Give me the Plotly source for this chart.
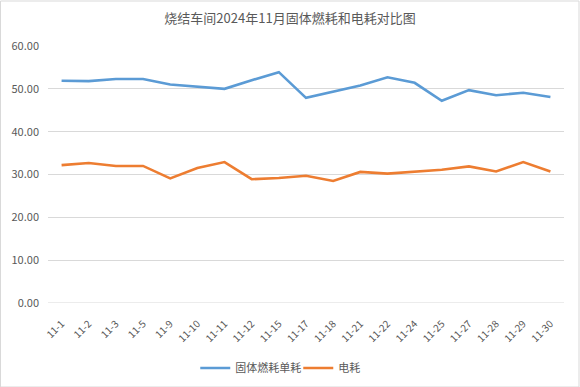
import plotly.graph_objects as go

categories = ["11-1", "11-2", "11-3", "11-5", "11-9", "11-10", "11-11", "11-12", "11-15", "11-17",
              "11-18", "11-21", "11-22", "11-24", "11-25", "11-27", "11-28", "11-29", "11-30"]
solid_fuel = [51.9, 51.8, 52.3, 52.3, 51.0, 50.5, 50.0, 52.0, 53.9, 47.9,
              49.3, 50.8, 52.7, 51.4, 47.2, 49.7, 48.5, 49.1, 48.1]
power = [32.2, 32.7, 32.0, 32.0, 29.1, 31.5, 32.9, 28.9, 29.2, 29.7,
         28.5, 30.6, 30.2, 30.7, 31.1, 31.9, 30.7, 32.9, 30.7]
y_ticks = [0, 10, 20, 30, 40, 50, 60]
y_ticktext = ["0.00", "10.00", "20.00", "30.00", "40.00", "50.00", "60.00"]

FONT = "Noto Sans CJK SC, Liberation Sans, sans-serif"
GREY = "#595959"

fig = go.Figure()
fig.add_trace(go.Scatter(x=list(range(len(categories))), y=solid_fuel, mode="lines",
                         name="固体燃耗单耗", line=dict(color="#5B9BD5", width=2.6)))
fig.add_trace(go.Scatter(x=list(range(len(categories))), y=power, mode="lines",
                         name="电耗", line=dict(color="#ED7D31", width=2.6)))

fig.update_layout(
    width=580, height=387,
    margin=dict(l=48, r=16, t=46, b=84, autoexpand=False),
    paper_bgcolor="white", plot_bgcolor="white",
    font=dict(family=FONT, color=GREY, size=10),
    title=dict(text="烧结车间2024年11月固体燃耗和电耗对比图", x=0.5, xanchor="center",
               y=0.953, yanchor="middle", font=dict(size=13, color=GREY, family=FONT)),
    showlegend=True,
    legend=dict(orientation="h", x=0.485, xanchor="center", y=-0.253, yanchor="middle",
                font=dict(size=11, color=GREY), itemwidth=30, tracegroupgap=0,
                entrywidth=58),
    xaxis=dict(tickmode="array", tickvals=list(range(len(categories))), ticktext=categories,
               range=[-0.5, len(categories) - 0.5], tickangle=-45, showgrid=False,
               zeroline=False, showline=False, ticks="outside", ticklen=10,
               tickcolor="rgba(0,0,0,0)", automargin=False,
               tickfont=dict(size=10, color=GREY)),
    yaxis=dict(tickmode="array", tickvals=y_ticks, ticktext=y_ticktext, range=[0, 60],
               showgrid=True, gridcolor="#D9D9D9", gridwidth=1, zeroline=False,
               showline=False, ticks="", ticklabelstandoff=8, automargin=False,
               tickfont=dict(size=11, color=GREY)),
    shapes=[dict(type="rect", xref="paper", yref="paper",
                 x0=-48 / 516 + 0.001, x1=1 + 15 / 516, y0=-84 / 257, y1=1 + 45 / 257,
                 line=dict(color="#D9D9D9", width=1), fillcolor="rgba(0,0,0,0)", layer="below")],
)
fig.add_shape(type="line", xref="paper", yref="y", x0=0, x1=1, y0=0, y1=0,
              line=dict(color="#D9D9D9", width=1), layer="below")

fig.write_html("out.html", config={"displayModeBar": False},
               post_script="document.body.style.margin='0';")
